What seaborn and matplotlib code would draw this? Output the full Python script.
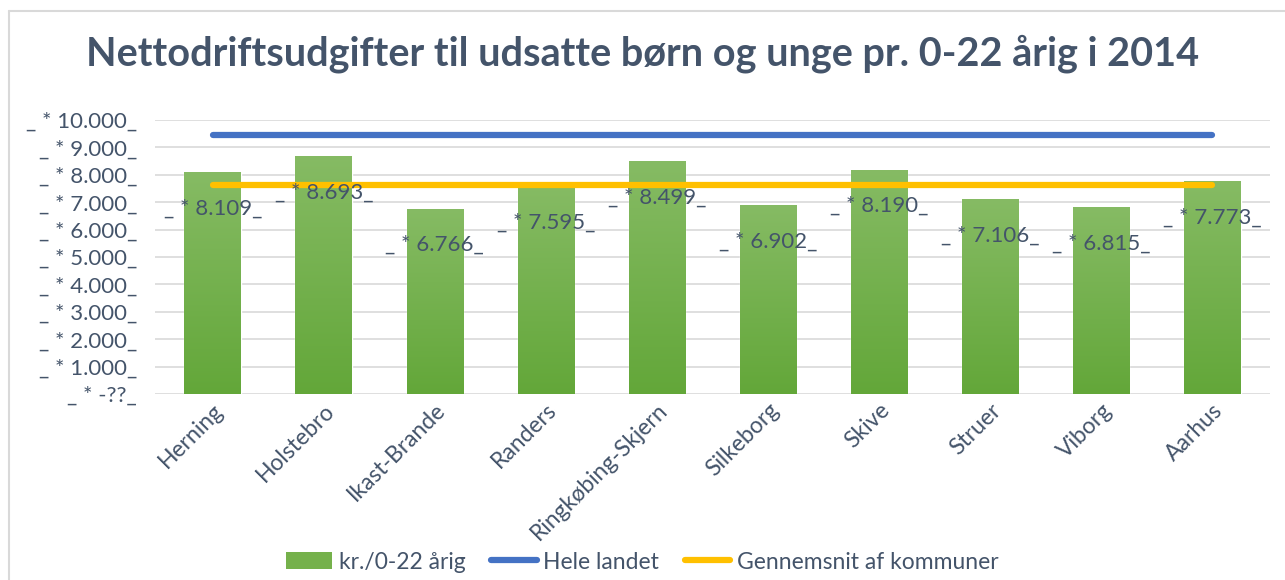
import numpy as np
import pandas as pd
import matplotlib
matplotlib.use("Agg")
import matplotlib.pyplot as plt
import seaborn as sns
from matplotlib.patches import Patch
from matplotlib.lines import Line2D
from matplotlib.colors import LinearSegmentedColormap

# --- data ---
kommuner = ["Herning", "Holstebro", "Ikast-Brande", "Randers", "Ringkøbing-Skjern",
            "Silkeborg", "Skive", "Struer", "Viborg", "Aarhus"]
udgift = [8109, 8693, 6766, 7595, 8499, 6902, 8190, 7106, 6815, 7773]
hele_landet = [9450, 9450, 9450, 9450, 9450, 9450, 9450, 9450, 9450, 9450]
gennemsnit = [7645, 7645, 7645, 7645, 7645, 7645, 7645, 7645, 7645, 7645]
y_ticks = [0, 1000, 2000, 3000, 4000, 5000, 6000, 7000, 8000, 9000, 10000]

df = pd.DataFrame({"kommune": kommuner, "udgift": udgift,
                   "hele": hele_landet, "snit": gennemsnit})

TXT = "#44546A"
GREEN = "#75B14B"
BLUE = "#4472C4"
YELLOW = "#FFC000"

sns.set_theme(style="white")
plt.rcParams["font.family"] = ["Lato", "DejaVu Sans"]

fig = plt.figure(figsize=(12.85, 5.8), dpi=100)
ax = fig.add_axes([0.1206, 0.3207, 0.8677, 0.4724])

sns.barplot(data=df, x="kommune", y="udgift", color=GREEN, width=0.51,
            saturation=1, ax=ax, zorder=2)

# vertical gradient on the bars, like the Excel fill
grad = LinearSegmentedColormap.from_list("g", ["#63A739", "#86BB64"])
for p in ax.patches:
    x0, y0 = p.get_x(), p.get_y()
    w, h = p.get_width(), p.get_height()
    im = ax.imshow(np.linspace(0, 1, 256).reshape(-1, 1), cmap=grad, origin="lower",
                   extent=[x0, x0 + w, y0, y0 + h], aspect="auto", zorder=2.1)
    im.set_clip_path(p)

sns.lineplot(data=df, x="kommune", y="hele", color=BLUE, lw=4.5, ax=ax,
             solid_capstyle="round", zorder=3)
sns.lineplot(data=df, x="kommune", y="snit", color=YELLOW, lw=4.5, ax=ax,
             solid_capstyle="round", zorder=3)

# data labels
for i, v in enumerate(udgift):
    ax.text(i, v - 1330, "_ * " + f"{v:,}".replace(",", ".") + "_",
            ha="center", va="center", fontsize=16, color=TXT, zorder=4)

ax.set_xlim(-0.52, 9.52)
ax.set_ylim(0, 10000)
ax.set_yticks(y_ticks)
ax.set_yticklabels(["_ * -??_"] + ["_ * " + f"{t:,}".replace(",", ".") + "_" for t in y_ticks[1:]])
ax.yaxis.grid(True, color="#D9D9D9", lw=1.2, zorder=0)
ax.set_axisbelow(True)
for s in ax.spines.values():
    s.set_visible(False)
ax.tick_params(axis="y", length=0, pad=13, labelsize=16, labelcolor=TXT)
ax.tick_params(axis="x", length=0, pad=4, labelsize=16.5, labelcolor=TXT)
plt.setp(ax.get_xticklabels(), rotation=45, ha="right", rotation_mode="anchor")
ax.set_xlabel("")
ax.set_ylabel("")

fig.text(0.5, 0.908, "Nettodriftsudgifter til udsatte børn og unge pr. 0-22 årig i 2014",
         ha="center", va="center", fontsize=28.5, fontweight="bold", color=TXT)

handles = [Patch(facecolor=GREEN, edgecolor="none"),
           Line2D([], [], color=BLUE, lw=4.5, solid_capstyle="round"),
           Line2D([], [], color=YELLOW, lw=4.5, solid_capstyle="round")]
fig.legend(handles, ["kr./0-22 årig", "Hele landet", "Gennemsnit af kommuner"],
           loc="center", bbox_to_anchor=(0.5, 0.031), ncol=3, frameon=False,
           fontsize=16.5, labelcolor=TXT, handlelength=2.0, handletextpad=0.3,
           columnspacing=1.1)

# chart area border (left and top visible)
fig.add_artist(Line2D([0.007, 0.007], [0, 0.981], color="#D9D9D9", lw=1.5))
fig.add_artist(Line2D([0.007, 1], [0.981, 0.981], color="#D9D9D9", lw=1.5))

fig.savefig("out.png", dpi=100)
